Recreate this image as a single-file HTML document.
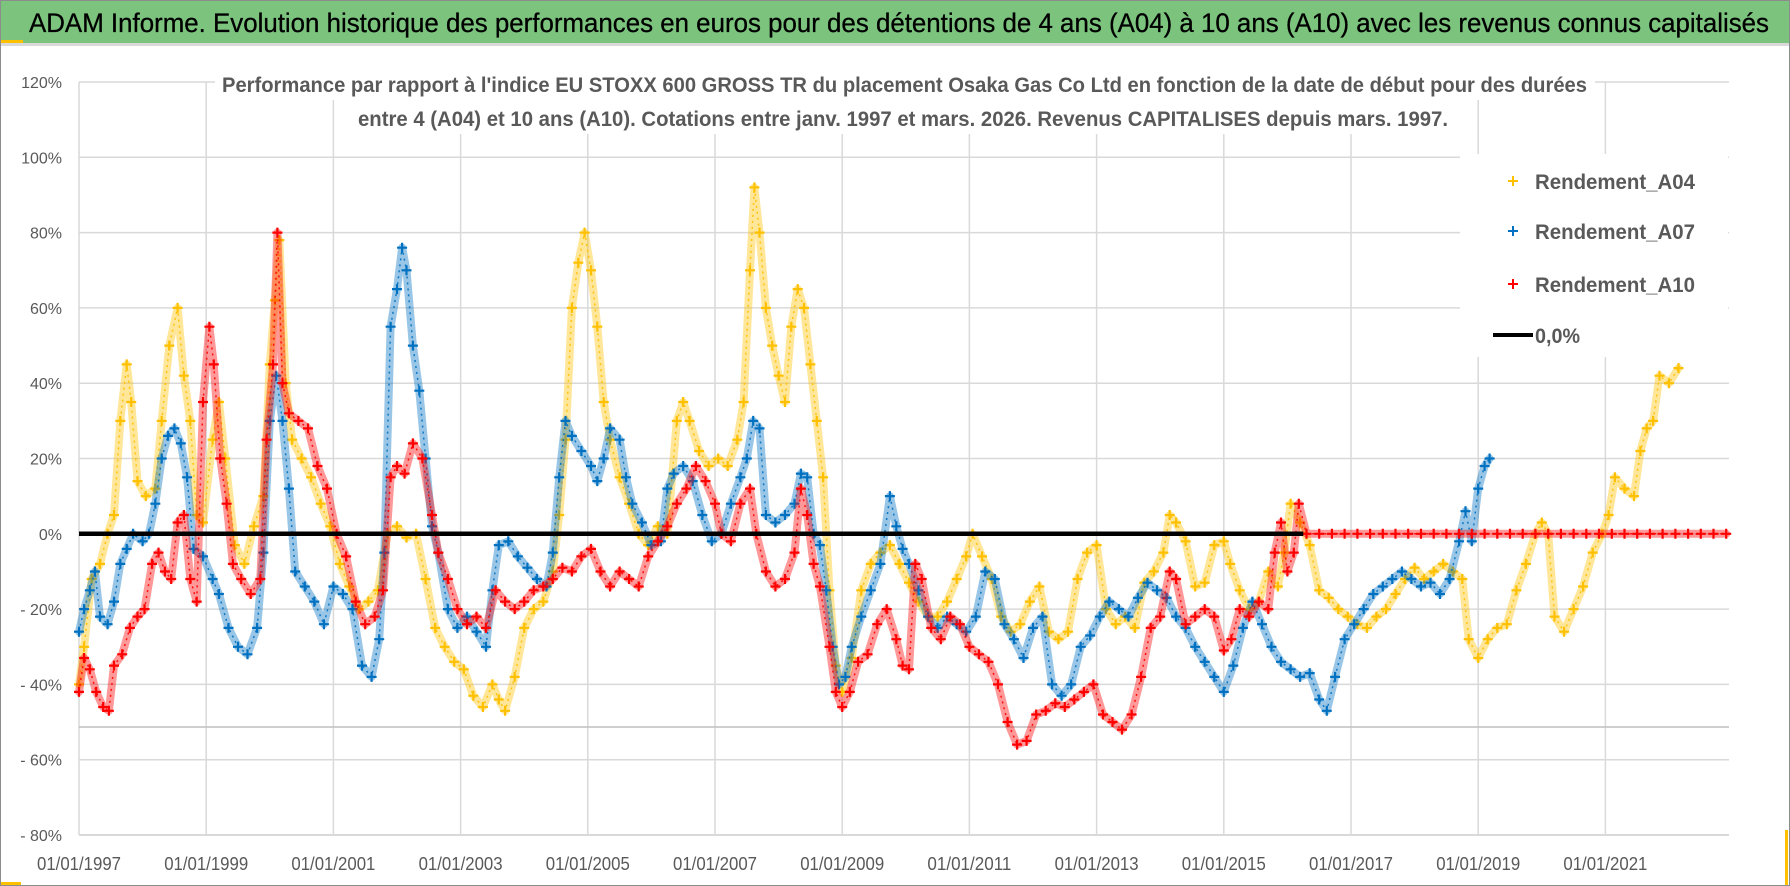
<!DOCTYPE html>
<html><head><meta charset="utf-8"><style>
html,body{margin:0;padding:0;background:#fff;}
svg{display:block;font-family:"Liberation Sans",sans-serif;}
</style></head><body>
<svg id="chart" width="1790" height="886" viewBox="0 0 1790 886" xmlns="http://www.w3.org/2000/svg">
<rect x="0" y="0" width="1790" height="886" fill="#ffffff"/>
<rect x="0.5" y="0.5" width="1789" height="885" fill="none" stroke="#8c8c8c"/>
<rect x="1" y="1" width="1788" height="42" fill="#7cc47e"/>
<rect x="1" y="40" width="22" height="3" fill="#ffc000"/>
<rect x="1" y="43" width="1788" height="3" fill="#d9d9d9"/>
<text x="29" y="32" font-size="27" fill="#000" stroke="#000" stroke-width="0.3" textLength="1740" lengthAdjust="spacingAndGlyphs">ADAM Informe. Evolution historique des performances en euros pour des détentions de 4 ans (A04) à 10 ans (A10) avec les revenus connus capitalisés</text>
<rect x="1" y="882" width="20" height="3" fill="#ffc000"/>
<rect x="1785" y="830" width="3" height="55" fill="#ffc000"/>
<g id="grid"></g>
<g id="plot"></g>
<rect x="215" y="66" width="1380" height="34" fill="#fff"/>
<rect x="350" y="100" width="1105" height="34" fill="#fff"/>
<text x="222" y="92" font-size="21" font-weight="bold" fill="#595959" textLength="1365" lengthAdjust="spacingAndGlyphs">Performance par rapport à l'indice EU STOXX 600 GROSS TR  du placement Osaka Gas Co Ltd en fonction de la date de début pour des durées</text>
<text x="358" y="126" font-size="21" font-weight="bold" fill="#595959" textLength="1090" lengthAdjust="spacingAndGlyphs">entre 4 (A04) et 10 ans (A10).  Cotations entre janv. 1997 et mars. 2026.  Revenus CAPITALISES depuis mars. 1997.</text>
<g id="legend">
<rect x="1460" y="154" width="268" height="203" fill="#fff"/>
<g><path d="M1508 181h10M1513 176v10" stroke="#ffc000" stroke-width="2"/><text x="1535" y="189" font-size="21" font-weight="bold" fill="#595959" textLength="160" lengthAdjust="spacingAndGlyphs">Rendement_A04</text></g>
<g><path d="M1508 231h10M1513 226v10" stroke="#0070c0" stroke-width="2"/><text x="1535" y="239" font-size="21" font-weight="bold" fill="#595959" textLength="160" lengthAdjust="spacingAndGlyphs">Rendement_A07</text></g>
<g><path d="M1508 284h10M1513 279v10" stroke="#ff0000" stroke-width="2"/><text x="1535" y="292" font-size="21" font-weight="bold" fill="#595959" textLength="160" lengthAdjust="spacingAndGlyphs">Rendement_A10</text></g>
<g><line x1="1493" y1="335" x2="1533" y2="335" stroke="#000" stroke-width="4"/><text x="1535" y="343" font-size="21" font-weight="bold" fill="#595959" textLength="45" lengthAdjust="spacingAndGlyphs">0,0%</text></g>
</g>
</svg>
<script>
const yTicks = [120,100,80,60,40,20,0,-20,-40,-60,-80];
const yTickLabels = ["120%","100%","80%","60%","40%","20%","0%","- 20%","- 40%","- 60%","- 80%"];
const xTicks = [1997,1999,2001,2003,2005,2007,2009,2011,2013,2015,2017,2019,2021];
const xTickLabels = ["01/01/1997","01/01/1999","01/01/2001","01/01/2003","01/01/2005","01/01/2007","01/01/2009","01/01/2011","01/01/2013","01/01/2015","01/01/2017","01/01/2019","01/01/2021"];

const datesA04 = [1997.00,1997.08,1997.2,1997.33,1997.45,1997.55,1997.65,1997.75,1997.82,1997.92,1998.05,1998.2,1998.3,1998.42,1998.55,1998.65,1998.75,1998.85,1998.95,1999.1,1999.2,1999.3,1999.45,1999.6,1999.75,1999.9,2000.0,2000.08,2000.15,2000.25,2000.35,2000.5,2000.65,2000.8,2000.95,2001.1,2001.25,2001.4,2001.55,2001.7,2001.85,2002.0,2002.15,2002.3,2002.45,2002.6,2002.75,2002.9,2003.05,2003.2,2003.35,2003.5,2003.6,2003.7,2003.85,2004.0,2004.15,2004.3,2004.45,2004.55,2004.65,2004.75,2004.85,2004.95,2005.05,2005.15,2005.25,2005.35,2005.5,2005.65,2005.8,2005.95,2006.1,2006.25,2006.4,2006.5,2006.6,2006.75,2006.9,2007.05,2007.2,2007.35,2007.45,2007.55,2007.62,2007.7,2007.8,2007.9,2008.0,2008.1,2008.2,2008.3,2008.4,2008.5,2008.6,2008.7,2008.8,2008.9,2009.0,2009.15,2009.3,2009.45,2009.6,2009.75,2009.9,2010.05,2010.2,2010.35,2010.5,2010.65,2010.8,2010.95,2011.05,2011.2,2011.35,2011.5,2011.65,2011.8,2011.95,2012.1,2012.25,2012.4,2012.55,2012.7,2012.85,2013.0,2013.15,2013.3,2013.45,2013.6,2013.75,2013.9,2014.05,2014.15,2014.25,2014.4,2014.55,2014.7,2014.85,2015.0,2015.1,2015.25,2015.4,2015.55,2015.7,2015.85,2015.95,2016.05,2016.2,2016.35,2016.5,2016.65,2016.8,2016.95,2017.1,2017.25,2017.4,2017.55,2017.7,2017.85,2018.0,2018.15,2018.3,2018.45,2018.6,2018.75,2018.85,2019.0,2019.15,2019.3,2019.45,2019.6,2019.75,2019.9,2020.0,2020.1,2020.2,2020.35,2020.5,2020.65,2020.8,2020.95,2021.05,2021.15,2021.3,2021.45,2021.55,2021.65,2021.75,2021.85,2022.0,2022.15];
const valuesA04 = [-40,-30,-12,-8,0,5,30,45,35,14,10,12,30,50,60,42,30,5,3,25,35,20,-3,-8,2,10,45,62,78,40,25,20,15,8,2,-8,-14,-20,-18,-15,0,2,-1,0,-12,-25,-30,-34,-36,-43,-46,-40,-44,-47,-38,-25,-20,-18,-10,5,25,60,72,80,70,55,35,25,15,8,0,-3,2,0,30,35,30,22,18,20,18,25,35,70,92,80,60,50,42,35,55,65,60,45,30,15,-15,-35,-42,-33,-15,-8,-5,-3,-8,-13,-18,-22,-22,-18,-12,-6,0,-6,-12,-22,-26,-24,-18,-14,-26,-28,-26,-12,-5,-3,-20,-24,-22,-25,-13,-10,-5,5,3,-2,-14,-13,-3,-2,-8,-15,-20,-18,-10,-14,-5,8,3,-3,-15,-17,-20,-22,-24,-25,-22,-20,-16,-12,-9,-12,-10,-8,-10,-12,-28,-33,-28,-25,-24,-15,-8,0,3,0,-22,-26,-20,-14,-5,0,5,15,12,10,22,28,30,42,40,44];

const datesA07 = [1997.0,1997.08,1997.17,1997.25,1997.33,1997.45,1997.55,1997.65,1997.75,1997.85,1998.0,1998.1,1998.2,1998.3,1998.4,1998.5,1998.6,1998.7,1998.8,1998.95,1999.1,1999.2,1999.35,1999.5,1999.65,1999.8,1999.9,2000.0,2000.1,2000.2,2000.3,2000.4,2000.55,2000.7,2000.85,2001.0,2001.15,2001.3,2001.45,2001.6,2001.72,2001.8,2001.9,2002.0,2002.08,2002.15,2002.25,2002.35,2002.45,2002.55,2002.65,2002.8,2002.95,2003.1,2003.25,2003.4,2003.5,2003.6,2003.75,2003.9,2004.05,2004.2,2004.35,2004.45,2004.55,2004.65,2004.75,2004.9,2005.05,2005.15,2005.25,2005.35,2005.5,2005.6,2005.7,2005.85,2006.0,2006.15,2006.25,2006.35,2006.5,2006.65,2006.8,2006.95,2007.1,2007.25,2007.4,2007.5,2007.6,2007.7,2007.8,2007.95,2008.1,2008.25,2008.35,2008.45,2008.55,2008.65,2008.75,2008.85,2008.95,2009.05,2009.15,2009.3,2009.45,2009.6,2009.75,2009.85,2009.95,2010.05,2010.2,2010.35,2010.5,2010.65,2010.8,2010.95,2011.1,2011.25,2011.4,2011.55,2011.7,2011.85,2012.0,2012.15,2012.3,2012.45,2012.6,2012.75,2012.9,2013.05,2013.2,2013.35,2013.5,2013.65,2013.8,2013.95,2014.1,2014.25,2014.4,2014.55,2014.7,2014.85,2015.0,2015.15,2015.3,2015.45,2015.6,2015.75,2015.9,2016.05,2016.2,2016.35,2016.5,2016.62,2016.75,2016.9,2017.05,2017.2,2017.35,2017.5,2017.65,2017.8,2017.95,2018.1,2018.25,2018.4,2018.55,2018.7,2018.8,2018.9,2019.0,2019.1,2019.18];
const valuesA07 = [-26,-20,-15,-10,-22,-24,-18,-8,-4,0,-2,0,8,20,26,28,24,15,-4,-6,-12,-16,-25,-30,-32,-25,-5,30,42,30,12,-10,-14,-18,-24,-14,-16,-20,-35,-38,-28,-5,55,65,76,70,50,38,20,2,-5,-20,-25,-22,-26,-30,-15,-3,-2,-6,-9,-12,-14,-5,15,30,26,22,18,14,20,28,25,15,8,3,-3,-2,12,16,18,14,5,-2,0,8,15,20,30,28,5,3,5,8,16,15,0,-3,-15,-30,-40,-38,-30,-22,-15,-8,10,2,-4,-8,-15,-22,-25,-22,-24,-26,-22,-10,-12,-24,-28,-33,-25,-22,-40,-43,-40,-30,-27,-22,-18,-20,-22,-17,-13,-15,-17,-22,-25,-30,-34,-38,-42,-35,-25,-18,-24,-30,-34,-36,-38,-37,-44,-47,-38,-28,-24,-20,-16,-14,-12,-10,-12,-14,-13,-16,-12,-2,6,-2,12,18,20];

const datesA10 = [1997.0,1997.08,1997.17,1997.27,1997.38,1997.47,1997.55,1997.68,1997.8,1997.92,1998.03,1998.15,1998.25,1998.35,1998.45,1998.55,1998.65,1998.75,1998.85,1998.95,1999.05,1999.12,1999.22,1999.32,1999.42,1999.55,1999.7,1999.85,1999.95,2000.05,2000.12,2000.2,2000.3,2000.45,2000.6,2000.75,2000.9,2001.05,2001.2,2001.35,2001.5,2001.65,2001.78,2001.9,2002.0,2002.12,2002.25,2002.4,2002.55,2002.65,2002.8,2002.95,2003.1,2003.25,2003.4,2003.55,2003.7,2003.85,2004.0,2004.15,2004.3,2004.45,2004.6,2004.75,2004.9,2005.05,2005.2,2005.35,2005.5,2005.65,2005.8,2005.95,2006.1,2006.25,2006.4,2006.55,2006.7,2006.85,2007.0,2007.1,2007.25,2007.4,2007.55,2007.65,2007.8,2007.95,2008.1,2008.25,2008.35,2008.45,2008.55,2008.65,2008.8,2008.9,2009.0,2009.12,2009.25,2009.4,2009.55,2009.7,2009.85,2009.95,2010.05,2010.15,2010.25,2010.4,2010.55,2010.7,2010.85,2011.0,2011.15,2011.3,2011.45,2011.6,2011.75,2011.9,2012.05,2012.2,2012.35,2012.5,2012.65,2012.8,2012.95,2013.1,2013.25,2013.4,2013.55,2013.7,2013.85,2014.0,2014.15,2014.25,2014.4,2014.55,2014.7,2014.85,2015.0,2015.12,2015.25,2015.4,2015.55,2015.7,2015.8,2015.9,2016.0,2016.1,2016.18,2016.3,2016.5,2016.7,2016.9,2017.1,2017.3,2017.5,2017.7,2017.9,2018.1,2018.3,2018.5,2018.7,2018.9,2019.1,2019.3,2019.5,2019.7,2019.9,2020.1,2020.3,2020.5,2020.7,2020.9,2021.1,2021.3,2021.5,2021.7,2021.9,2022.1,2022.3,2022.5,2022.7,2022.9];
const valuesA10 = [-42,-33,-36,-42,-46,-47,-35,-32,-25,-22,-20,-8,-5,-10,-12,3,5,-12,-18,35,55,45,20,8,-8,-12,-16,-12,25,45,80,40,32,30,28,18,12,0,-6,-18,-24,-22,-15,15,18,16,24,20,5,-5,-12,-20,-24,-22,-25,-15,-18,-20,-18,-15,-14,-12,-9,-10,-6,-4,-10,-14,-10,-12,-14,-6,-2,2,8,12,18,14,8,0,-2,8,12,0,-10,-14,-12,-5,12,5,-8,-14,-30,-42,-46,-42,-34,-32,-24,-20,-28,-35,-36,-8,-12,-25,-28,-22,-24,-30,-32,-34,-40,-50,-56,-55,-48,-47,-45,-46,-44,-42,-40,-48,-50,-52,-48,-38,-25,-22,-10,-12,-24,-22,-20,-22,-31,-28,-20,-22,-18,-20,-5,3,-10,-5,8,0,0,0,0,0,0,0,0,0,0,0,0,0,0,0,0,0,0,0,0,0,0,0,0,0,0,0,0,0,0,0,0,0,0];

const zeroLineRange = [1997.0, 2016.25];

const PX0 = 79, PX1 = 1729, PY0 = 82, PY1 = 835;
const YEAR0 = 1997, PX_PER_YEAR = 63.6;
function xScale(yr){ return PX0 + (yr - YEAR0) * PX_PER_YEAR; }
function yScale(p){ return PY1 - (p - (-80)) * (PY1 - PY0) / 200; }
const NS = "http://www.w3.org/2000/svg";
function mk(tag, attrs, parent){ const e = document.createElementNS(NS, tag); for (const k in attrs) e.setAttribute(k, attrs[k]); parent.appendChild(e); return e; }

const grid = document.getElementById('grid');
const svg = document.getElementById('chart');
yTicks.forEach((t, i) => {
  const y = yScale(t);
  const gl = mk('line', {x1: PX0, x2: PX1, y1: y, y2: y, stroke: '#d9d9d9', 'stroke-width': t === -80 ? 2 : 1.5}, grid);
  
  
  const lb = mk('text', {x: 62, y: y + 6, 'font-size': 16, fill: '#595959', 'text-anchor': 'end'}, svg);
  lb.textContent = yTickLabels[i];
  
  
});
xTicks.forEach((t, i) => {
  const x = xScale(t);
  const gl = mk('line', {x1: x, x2: x, y1: PY0, y2: PY1, stroke: '#d9d9d9', 'stroke-width': 1.5}, grid);
  
  
  const lb = mk('text', {x: x, y: 870, 'font-size': 18, fill: '#595959', 'text-anchor': 'middle', textLength: 84, lengthAdjust: 'spacingAndGlyphs'}, svg);
  lb.textContent = xTickLabels[i];
  
  
});
const rl = mk('line', {x1: PX0, x2: PX1, y1: 727, y2: 727, stroke: '#bfbfbf', 'stroke-width': 1.5}, grid);



const plot = document.getElementById('plot');
function drawSeries(dates, vals, color, name){
  const g = mk('g', {}, plot);
  
  
  const pts = dates.map((d, i) => xScale(d).toFixed(1) + ',' + yScale(vals[i]).toFixed(1)).join(' ');
  mk('polyline', {points: pts, fill: 'none', stroke: color, 'stroke-width': 8, 'stroke-linejoin': 'round', 'stroke-linecap': 'round', opacity: 0.4}, g);
  mk('polyline', {points: pts, fill: 'none', stroke: color, 'stroke-width': 1.5, 'stroke-dasharray': '2 4', opacity: 0.9}, g);
  let d = '';
  dates.forEach((dt, i) => {
    const x = xScale(dt), y = yScale(vals[i]);
    d += 'M' + (x - 5).toFixed(1) + ' ' + y.toFixed(1) + 'h10M' + x.toFixed(1) + ' ' + (y - 5).toFixed(1) + 'v10';
  });
  const m = mk('path', {d: d, stroke: color, 'stroke-width': 2.2, fill: 'none'}, g);
  
  
}
drawSeries(datesA04, valuesA04, '#ffc000', 'series-a04');
drawSeries(datesA07, valuesA07, '#0070c0', 'series-a07');
drawSeries(datesA10, valuesA10, '#ff0000', 'series-a10');
const zl = mk('line', {x1: xScale(zeroLineRange[0]), x2: xScale(zeroLineRange[1]), y1: yScale(0), y2: yScale(0), stroke: '#000', 'stroke-width': 4.5}, plot);


</script>
</body></html>
